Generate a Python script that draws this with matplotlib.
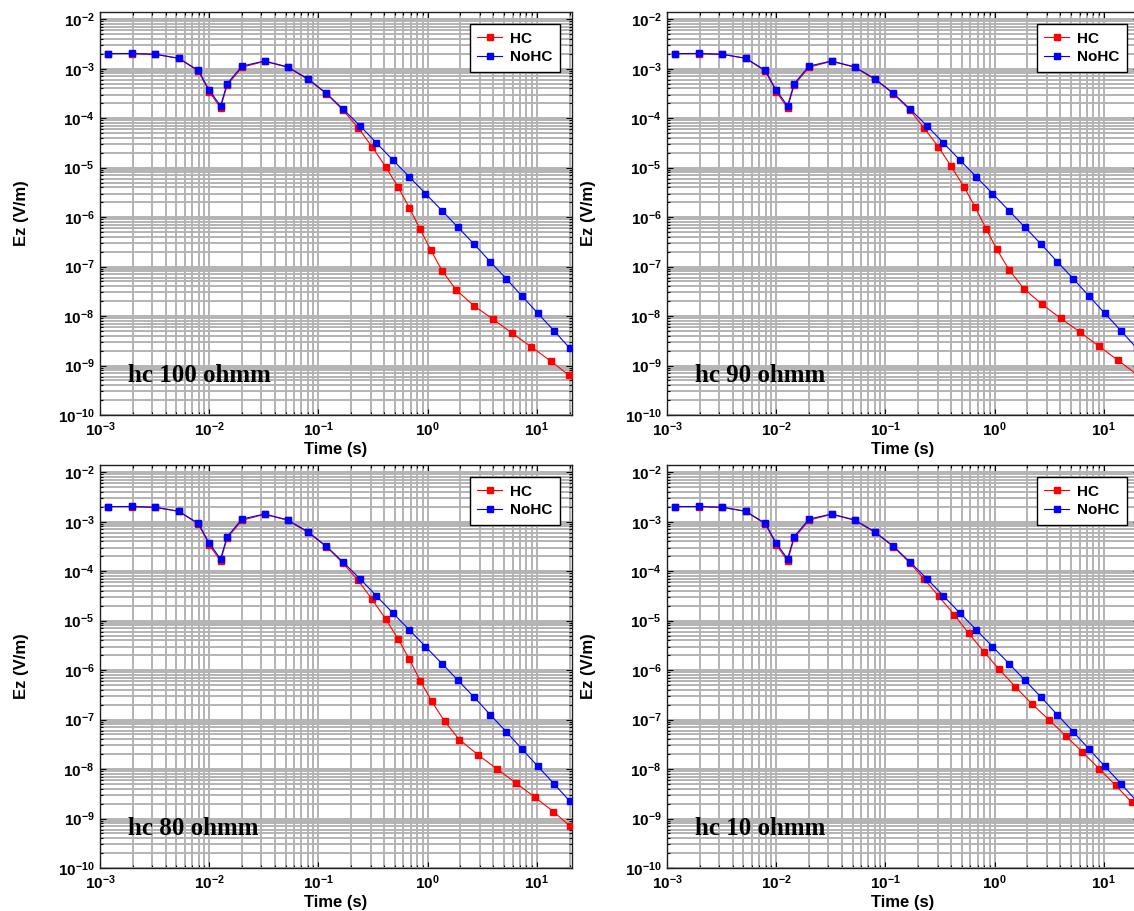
import numpy as np
import matplotlib
matplotlib.use("Agg")
import matplotlib.pyplot as plt
from matplotlib.ticker import FixedLocator, NullFormatter, FuncFormatter

plt.rcParams['font.family'] = ['Liberation Sans', 'DejaVu Sans']
plt.rcParams['font.weight'] = 'bold'
plt.rcParams['mathtext.fontset'] = 'custom'
plt.rcParams['mathtext.rm'] = 'Liberation Sans:bold'
plt.rcParams['mathtext.bf'] = 'Liberation Sans:bold'
plt.rcParams['mathtext.it'] = 'Liberation Sans:bold:italic'

# NoHC curve (same in all four panels)
t_nohc = [1.18e-3, 1.95e-3, 3.22e-3, 5.24e-3, 7.93e-3, 1.0e-2, 1.27e-2, 1.46e-2,
          2.0e-2, 3.21e-2, 5.22e-2, 7.97e-2, 0.118, 0.168, 0.242, 0.34, 0.48,
          0.676, 0.955, 1.35, 1.9, 2.67, 3.74, 5.24, 7.3, 10.2, 14.3, 20.0]
ez_nohc = [2.02e-3, 2.03e-3, 1.95e-3, 1.63e-3, 9.3e-4, 3.7e-4, 1.77e-4, 5.0e-4,
           1.13e-3, 1.43e-3, 1.09e-3, 6.3e-4, 3.2e-4, 1.53e-4, 6.9e-5, 3.15e-5,
           1.43e-5, 6.6e-6, 3.0e-6, 1.36e-6, 6.2e-7, 2.83e-7, 1.26e-7, 5.7e-8,
           2.55e-8, 1.14e-8, 5.1e-9, 2.25e-9]

# HC curves: early times shared, late times per panel
t_hc_early = t_nohc[:14]
ez_hc_early = [2.02e-3, 2.02e-3, 1.95e-3, 1.62e-3, 9.0e-4, 3.45e-4, 1.6e-4, 4.65e-4,
               1.07e-3, 1.41e-3, 1.07e-3, 6.1e-4, 3.15e-4, 1.45e-4]

t_hc100 = [0.231, 0.310, 0.413, 0.537, 0.681, 0.853, 1.07, 1.36, 1.82, 2.65,
           3.98, 5.98, 8.94, 13.4, 19.8]
ez_hc100 = [6.4e-5, 2.64e-5, 1.04e-5, 4.04e-6, 1.54e-6, 5.7e-7, 2.15e-7, 8.2e-8,
            3.4e-8, 1.62e-8, 8.6e-9, 4.47e-9, 2.37e-9, 1.23e-9, 6.3e-10]

t_hc90 = [0.225, 0.306, 0.40, 0.526, 0.667, 0.835, 1.05, 1.36, 1.85, 2.70,
          4.03, 6.01, 8.96, 13.4, 20.0]
ez_hc90 = [6.4e-5, 2.63e-5, 1.06e-5, 4.04e-6, 1.57e-6, 5.8e-7, 2.22e-7, 8.5e-8,
           3.6e-8, 1.75e-8, 8.97e-9, 4.8e-9, 2.48e-9, 1.29e-9, 6.6e-10]

t_hc80 = [0.231, 0.31, 0.413, 0.537, 0.681, 0.857, 1.09, 1.43, 1.95, 2.88,
          4.30, 6.41, 9.6, 14.2, 20.0]
ez_hc80 = [6.5e-5, 2.7e-5, 1.08e-5, 4.27e-6, 1.65e-6, 6.1e-7, 2.34e-7, 9.25e-8,
           3.94e-8, 1.96e-8, 1.01e-8, 5.26e-9, 2.69e-9, 1.38e-9, 7.1e-10]

t_hc10 = [0.225, 0.308, 0.429, 0.58, 0.795, 1.10, 1.54, 2.18, 3.13, 4.48,
          6.35, 9.04, 12.8, 18.0]
ez_hc10 = [7.05e-5, 3.1e-5, 1.30e-5, 5.5e-6, 2.37e-6, 1.04e-6, 4.65e-7, 2.1e-7,
           1.0e-7, 4.69e-8, 2.22e-8, 1.02e-8, 4.7e-9, 2.13e-9]

panel_labels = ['hc 100 ohmm', 'hc 90 ohmm', 'hc 80 ohmm', 'hc 10 ohmm']
hc_late = [(t_hc100, ez_hc100), (t_hc90, ez_hc90), (t_hc80, ez_hc80), (t_hc10, ez_hc10)]

xlim = (1e-3, 21)
ylim = (1e-10, 1.4e-2)

W, H = 1134, 911
fig = plt.figure(figsize=(W / 100, H / 100), dpi=100)

ax_w, ax_h = 472, 403
# left px, top px of each axes
corners = [(100, 12), (667, 12), (100, 465), (667, 465)]


def fmt(v, pos):
    e = int(round(np.log10(v)))
    return r'$\mathbf{10^{%d}}$' % e


def log_ticks(lo, hi):
    # only ticks that fall inside the visible range
    decades = np.arange(np.floor(np.log10(lo)), np.ceil(np.log10(hi)) + 1)
    major = [10 ** d for d in decades if lo <= 10 ** d <= hi]
    minor = [s * 10 ** d for d in decades for s in range(2, 10) if lo <= s * 10 ** d <= hi]
    return major, minor


for i, (left, top) in enumerate(corners):
    ax = fig.add_axes([left / W, 1 - (top + ax_h) / H, ax_w / W, ax_h / H])
    th, eh = hc_late[i]
    ax.loglog(t_hc_early + th, ez_hc_early + eh, color='#ff0000', lw=0.8,
              marker='s', ms=4, mec='#ff0000', label='HC', zorder=3)
    ax.loglog(t_nohc, ez_nohc, color='#0000ff', lw=0.8,
              marker='s', ms=4, mec='#0000ff', label='NoHC', zorder=4)

    ax.set_xlim(*xlim)
    ax.set_ylim(*ylim)

    for axis, lim in ((ax.xaxis, xlim), (ax.yaxis, ylim)):
        major, minor = log_ticks(*lim)
        axis.set_major_locator(FixedLocator(major))
        axis.set_minor_locator(FixedLocator(minor))
        axis.set_major_formatter(FuncFormatter(fmt))
        axis.set_minor_formatter(NullFormatter())

    ax.grid(True, which='both', color='#b3b3b3', lw=1.4, ls='-', zorder=0)
    ax.set_axisbelow(True)
    ax.tick_params(which='both', direction='in', top=True, right=True,
                   colors='black', labelsize=11, pad=4)
    ax.tick_params(which='major', length=4, width=0.8)
    ax.tick_params(which='minor', length=2.5, width=0.8)
    for s in ax.spines.values():
        s.set_color('#202020')
        s.set_linewidth(1.0)

    ax.set_xlabel('Time (s)', fontsize=12, fontweight='bold')
    ax.set_ylabel('Ez (V/m)', fontsize=12, fontweight='bold')
    ax.xaxis.set_label_coords(0.5, -0.066)
    ax.yaxis.set_label_coords(-0.15, 0.5)

    leg = ax.legend(loc='upper right', bbox_to_anchor=(1 - 12 / ax_w, 1 - 12 / ax_h),
                    borderaxespad=0, fancybox=False, framealpha=1,
                    edgecolor='black', prop={'weight': 'bold', 'size': 11},
                    handlelength=1.65, handletextpad=0.5, labelspacing=0.3,
                    borderpad=0.5)
    leg.get_frame().set_linewidth(1.0)
    leg.set_zorder(10)

    ax.text(0.06, 0.082, panel_labels[i], transform=ax.transAxes,
            family=['Liberation Serif', 'DejaVu Serif'], fontweight='bold',
            fontsize=18, va='baseline', ha='left', zorder=6)

fig.savefig('out.png', dpi=100)
